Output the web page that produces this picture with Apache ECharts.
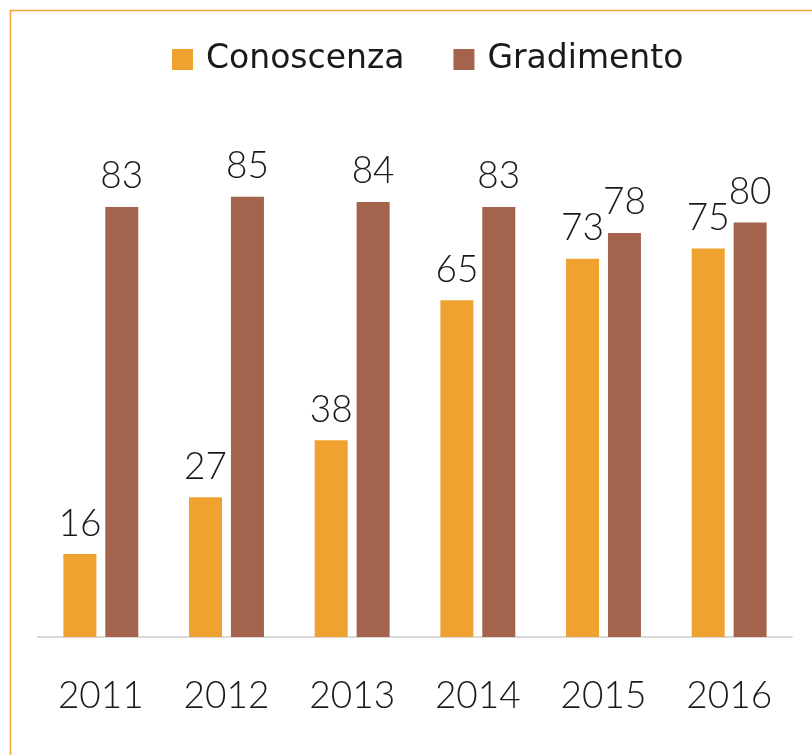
<!DOCTYPE html>
<html>
<head>
<meta charset="utf-8">
<script src="https://cdn.jsdelivr.net/npm/echarts@6/dist/echarts.min.js"></script>
<style>html,body{margin:0;padding:0;background:#fff}#c{width:812px;height:755px}</style>
</head>
<body>
<div id="c"></div>
<script>
const categories = ['2011', '2012', '2013', '2014', '2015', '2016'];
const conoscenza = [16, 27, 38, 65, 73, 75];
const gradimento = [83, 85, 84, 83, 78, 80];
const seriesNames = ['Conoscenza', 'Gradimento'];

const FONT = 'Lato, "DejaVu Sans", sans-serif';
const LEGEND_FONT = '"DejaVu Sans", sans-serif';
const chart = echarts.init(document.getElementById('c'), null, {renderer: 'canvas'});
const labelStyle = {show: true, position: 'top', distance: 12, fontFamily: FONT, fontWeight: 300, fontSize: 37, color: '#1a1a1a'};
chart.setOption({
  backgroundColor: '#fff',
  animation: false,
  graphic: [{
    type: 'rect', left: 8, top: 8, shape: {width: 900, height: 900},
    style: {fill: 'none', stroke: '#F0A53C', lineWidth: 1.5}, silent: true
  }],
  legend: {
    top: 38, left: 167, itemWidth: 21, itemHeight: 21, itemGap: 49,
    icon: 'rect',
    textStyle: {fontFamily: LEGEND_FONT, fontSize: 33, color: '#1a1a1a', padding: [0, 0, 0, 8]},
    data: seriesNames
  },
  grid: {left: 38, right: 20, top: 119, bottom: 118, containLabel: false},
  xAxis: {
    type: 'category', data: categories,
    axisLine: {lineStyle: {color: '#d9d9d9', width: 2}},
    axisTick: {show: false},
    axisLabel: {fontFamily: FONT, fontWeight: 300, fontSize: 37, color: '#1a1a1a', margin: 41}
  },
  yAxis: {type: 'value', min: 0, max: 100, show: false, splitLine: {show: false}},
  series: [
    {name: seriesNames[0], type: 'bar', data: conoscenza, barWidth: 33, barGap: '27%',
     itemStyle: {color: '#EFA22F'}, label: labelStyle},
    {name: seriesNames[1], type: 'bar', data: gradimento, barWidth: 33,
     itemStyle: {color: '#A4634C'}, label: labelStyle}
  ]
});
</script>
</body>
</html>
